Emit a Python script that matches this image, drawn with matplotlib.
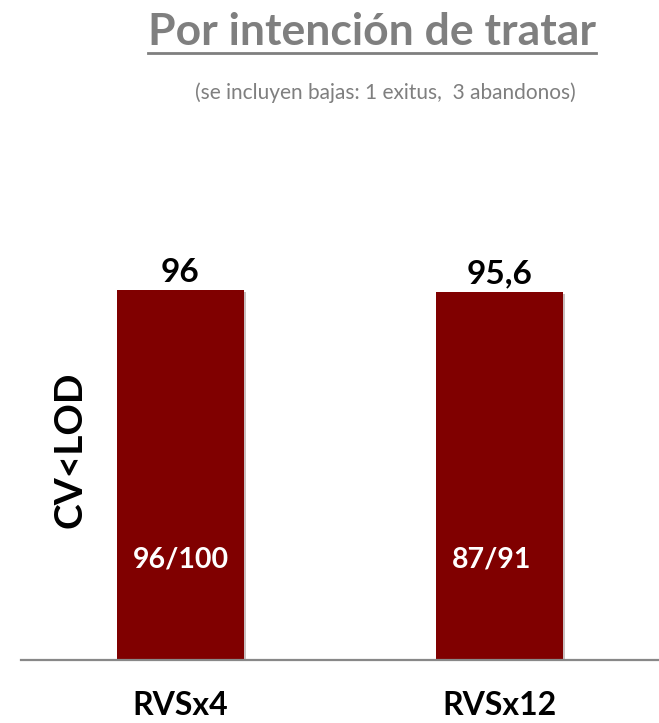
import matplotlib.pyplot as plt
import matplotlib.patheffects as pe
from matplotlib.lines import Line2D

groups = ["RVSx4", "RVSx12"]
pct = [96, 95.6]
pct_labels = ["96", "95,6"]
counts = ["96/100", "87/91"]

plt.rcParams['font.family'] = ['Lato', 'DejaVu Sans']

fig = plt.figure(figsize=(6.59, 7.23), dpi=100)
ax = fig.add_axes([21 / 659, 63 / 723, 638 / 659, 385.4 / 723])

x = list(range(len(groups)))
bars = ax.bar(x, pct, width=0.4, color="#800000")
for b in bars:
    b.set_path_effects([pe.SimplePatchShadow(offset=(1.5, -1.5), alpha=0.25), pe.Normal()])

ax.set_xlim(-0.5, 1.5)
ax.set_ylim(0, 100)

# value above each bar
for xi, v, lab in zip(x, pct, pct_labels):
    ax.annotate(lab, (xi, v), xytext=(0, 2), textcoords="offset points",
                ha="center", va="bottom", fontsize=24, fontweight="bold", color="black")

# counts inside bars
for xi, c in zip(x, counts):
    ax.text(xi - 0.15, 26, c, ha="left", va="center", fontsize=20.5,
            fontweight="bold", color="white")

ax.set_xticks(x)
ax.set_xticklabels(groups, fontsize=23, fontweight="bold")
ax.tick_params(axis="x", length=0, pad=22)
ax.set_yticks([])

for s in ["top", "right", "left"]:
    ax.spines[s].set_visible(False)
ax.spines["bottom"].set_color("#888888")
ax.spines["bottom"].set_linewidth(1.6)

fig.text(70 / 659, 1 - 450 / 723, "CV<LOD", rotation=90, ha="center", va="center",
         fontsize=28, fontweight="bold", color="black")

# title with underline
title = fig.text(372 / 659, 1 - 45 / 723, "Por intención de tratar", ha="center",
                 va="baseline", fontsize=32, fontweight="bold", color="#7f7f7f")
fig.text(385 / 659, 1 - 93 / 723, "(se incluyen bajas: 1 exitus,  3 abandonos)",
         ha="center", va="center", fontsize=15, color="#7f7f7f")

fig.canvas.draw()
bb = title.get_window_extent()
y_ul = (723 - 53) / 723
fig.add_artist(Line2D([bb.x0 / 659, bb.x1 / 659], [y_ul, y_ul], color="#7f7f7f",
                      linewidth=2, transform=fig.transFigure))

fig.savefig("out.png", dpi=100)
